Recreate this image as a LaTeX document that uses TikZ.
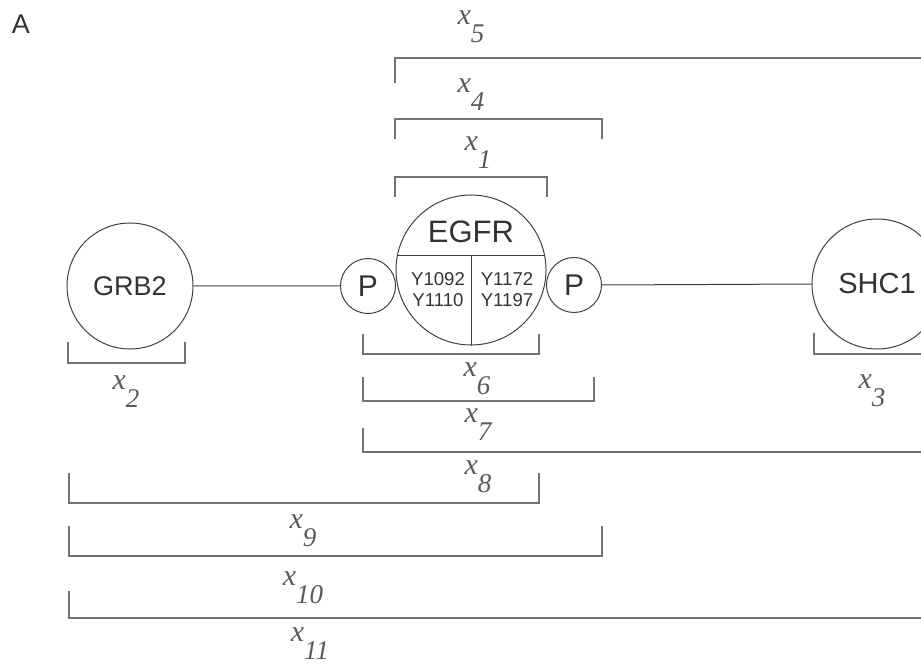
\documentclass[tikz,border=0pt]{standalone}
\usepackage{fontspec}
\setmainfont{Liberation Serif}
\setsansfont{Liberation Sans}
\usetikzlibrary{shapes.geometric}

% italic x with a low italic index
\newcommand{\xsub}[1]{{\fontsize{15}{15}\selectfont\itshape x}\raisebox{-9pt}{\fontsize{13.5}{13.5}\selectfont\itshape #1}}
\newcommand{\sffs}[1]{\sffamily\fontsize{#1}{#1}\selectfont}

\tikzset{
	mol/.style={circle,draw=black!75,inner sep=0pt,text=black!80},
	brk/.style={draw=black!55,line width=0.8pt},
	xlab/.style={inner sep=0pt,text=black!65}
}

\begin{document}
\begin{tikzpicture}[x=0.5pt,y=-0.5pt,line width=0.5pt]
	\clip (0,0) rectangle (921,668);
	\node[font=\sffs{13.5},text=black!80] (A) at (21,24) {A};
	% molecules
	\node[mol,minimum size=63pt,font=\sffs{13.5}] (grb) at (130,286) {GRB2};
	\node[mol,minimum size=75pt] (egfr) at (471,270) {};
	\node[mol,minimum size=27.5pt,font=\sffs{15}] (pl) at (368,286) {P};
	\node[mol,minimum size=27.5pt,font=\sffs{15}] (pr) at (574,285) {P};
	\node[mol,minimum size=65pt,font=\sffs{14.5}] (shc) at (877,284) {SHC1};
	\draw[black!75] (grb.east) -- (pl.west) (pr.east) -- (shc.west);
	% EGFR split into head and two sites
	\draw[black!75] (egfr.center) ++(-73.7,-14) coordinate (dl) -- ++(147.4,0) coordinate (dr);
	\draw[black!75] (egfr.center |- dl) -- (egfr.south);
	\node[font=\sffs{15.5},text=black!80] (egfrlab) at ([yshift=19pt]egfr.center) {EGFR};
	\node[align=center,font=\sffamily\fontsize{9.3}{10.5}\selectfont,text=black!80] (sitea) at (438,290) {Y1092\\Y1110};
	\node[align=center,font=\sffamily\fontsize{9.3}{10.5}\selectfont,text=black!80] (siteb) at (507,290) {Y1172\\Y1197};
	% brackets: left x, right x, bar y, tick end y
	\foreach \xa/\xb/\yb/\yt in {395/940/58/83,395/602/119/139,395/547/177/197,
		68/185/363/342,814/940/354/333,363/539/354/334,363/594/401/377,
		363/940/452/428,69/539/503/473,69/602/556/526,69/940/618/591}
		\draw[brk] (\xa,\yt) |- (\xb,\yb) -- (\xb,\yt);
	\foreach \n/\px/\py in {5/471/27,4/471/95,1/478/153,2/126/392,3/872/391,
		6/477/379,7/478/425,8/478/477,9/303/531,10/303/588,11/310/644}
		\node[xlab] (x\n) at (\px,\py) {\xsub{\n}};
\end{tikzpicture}
\end{document}
